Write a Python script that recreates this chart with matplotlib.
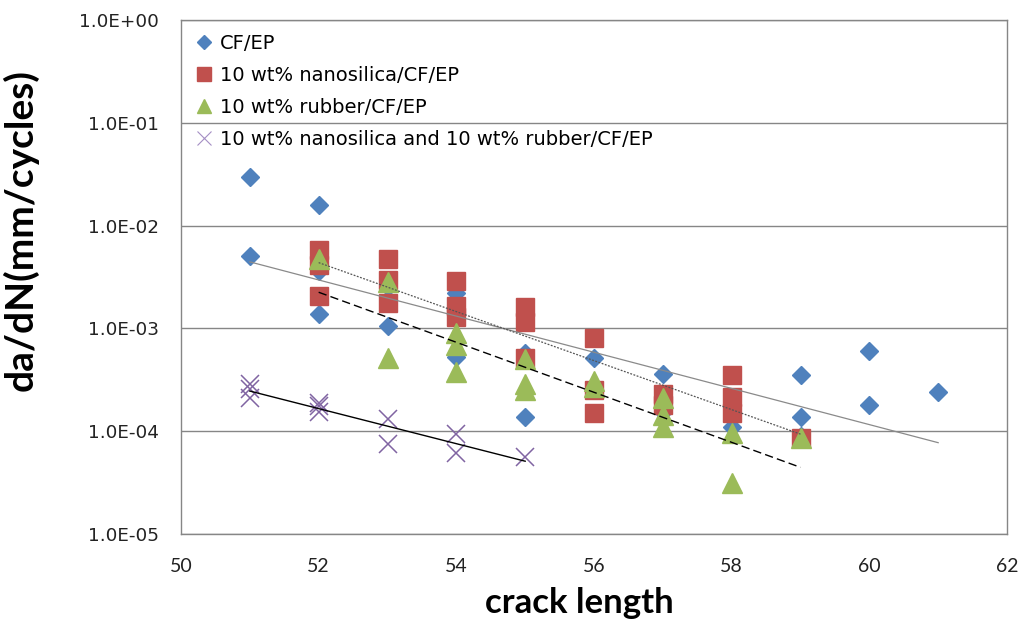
import numpy as np
import matplotlib
matplotlib.use("agg")
import matplotlib.pyplot as plt
from matplotlib.lines import Line2D
from matplotlib.ticker import FuncFormatter, FixedLocator, NullLocator

# crack length (mm) and da/dN (mm/cycles)
cf_x = [51, 51, 52, 52, 52, 53, 53, 54, 54, 55, 55, 55, 56, 56, 57, 57, 58, 59, 59, 59, 60, 60, 61]
cf_y = [2.95e-2, 5.1e-3, 1.59e-2, 3.6e-3, 1.37e-3, 2.55e-3, 1.05e-3, 2.2e-3, 5.3e-4,
        1.15e-3, 5.7e-4, 1.38e-4, 5.1e-4, 1.5e-4, 3.6e-4, 1.55e-4, 1.1e-4, 3.5e-4,
        1.36e-4, 9.0e-5, 6.07e-4, 1.79e-4, 2.39e-4]

ns_x = [52, 52, 52, 53, 53, 53, 54, 54, 54, 55, 55, 55, 56, 56, 56, 57, 57, 58, 58, 58, 59]
ns_y = [5.8e-3, 4.1e-3, 2.07e-3, 4.73e-3, 2.96e-3, 1.75e-3, 2.89e-3, 1.65e-3, 1.3e-3,
        1.63e-3, 1.16e-3, 5.1e-4, 8.1e-4, 2.5e-4, 1.5e-4, 2.3e-4, 1.8e-4, 3.5e-4,
        2.14e-4, 1.51e-4, 8.6e-5]

rb_x = [52, 53, 53, 54, 54, 54, 55, 55, 55, 56, 56, 57, 57, 57, 58, 58, 59]
rb_y = [4.7e-3, 2.85e-3, 5.1e-4, 8.95e-4, 6.9e-4, 3.8e-4, 5.0e-4, 2.9e-4, 2.5e-4,
        3.1e-4, 2.7e-4, 2.1e-4, 1.44e-4, 1.1e-4, 9.5e-5, 3.16e-5, 8.6e-5]

hy_x = [51, 51, 51, 52, 52, 52, 53, 53, 54, 54, 55]
hy_y = [2.9e-4, 2.55e-4, 2.09e-4, 1.87e-4, 1.76e-4, 1.55e-4, 1.3e-4, 7.5e-5, 9.3e-5,
        6.2e-5, 5.6e-5]

labels = ["CF/EP", "10 wt% nanosilica/CF/EP", "10 wt% rubber/CF/EP",
          "10 wt% nanosilica and 10 wt% rubber/CF/EP"]

c_blue = "#4F81BD"
c_red = "#C0504D"
c_green = "#9BBB59"
c_purple = "#8064A2"
grid_c = "#868686"


def exp_trend(x, y):
    # excel style exponential trendline: straight fit of ln(y)
    x = np.asarray(x, float)
    b, a = np.polyfit(x, np.log(y), 1)
    xs = np.array([x.min(), x.max()])
    return xs, np.exp(a + b * xs)


fig = plt.figure(figsize=(10.22, 6.19), dpi=100)
ax = fig.add_axes([181 / 1022, 1 - 534 / 619, 826 / 1022, 514 / 619])

ax.plot(cf_x, cf_y, ls="none", marker="D", ms=9.6, color=c_blue, zorder=3)
ax.plot(ns_x, ns_y, ls="none", marker="s", ms=13.5, color=c_red, zorder=4)
ax.plot(rb_x, rb_y, ls="none", marker="^", ms=14, color=c_green, zorder=5)
ax.plot(hy_x, hy_y, ls="none", marker="x", ms=13.5, mew=1.1, color=c_purple, zorder=6)

tx, ty = exp_trend(cf_x, cf_y)
ax.plot(tx, ty, color="#8a8a8a", lw=0.9, zorder=7)
tx, ty = exp_trend(ns_x, ns_y)
ax.plot(tx, ty, color="#555555", lw=0.9, ls=(0, (1.5, 1.2)), zorder=7)
tx, ty = exp_trend(rb_x, rb_y)
ax.plot(tx, ty, color="black", lw=1.0, ls=(0, (6, 3)), zorder=7)
tx, ty = exp_trend(hy_x, hy_y)
ax.plot(tx, ty, color="black", lw=1.0, zorder=7)

ax.set_yscale("log")
ax.set_xlim(50, 62)
ax.set_ylim(1e-5, 1)
ax.xaxis.set_major_locator(FixedLocator(range(50, 63, 2)))
ax.yaxis.set_major_locator(FixedLocator([1e-5, 1e-4, 1e-3, 1e-2, 1e-1, 1]))
ax.yaxis.set_minor_locator(NullLocator())
ax.yaxis.set_major_formatter(FuncFormatter(lambda v, p: "{:.1E}".format(v)))
ax.grid(axis="y", color=grid_c, lw=1.0)
ax.set_axisbelow(True)
for s in ax.spines.values():
    s.set_color(grid_c)
    s.set_linewidth(1.0)
ax.tick_params(axis="both", length=0)
ax.tick_params(axis="y", pad=16, labelsize=13.2, labelcolor="#222222")
ax.tick_params(axis="x", pad=17, labelsize=14, labelcolor="#222222")
for t in ax.get_xticklabels():
    t.set_family("Lato")

ax.set_xlabel("crack length", family="Lato", weight="bold", fontsize=25)
ax.xaxis.set_label_coords(0.482, -0.104)
ax.set_ylabel("da/dN(mm/cycles)", family="Lato", weight="bold", fontsize=28)
ax.yaxis.set_label_coords(-0.172, 0.591)

handles = [
    Line2D([], [], ls="none", marker="D", ms=7, color=c_blue),
    Line2D([], [], ls="none", marker="s", ms=10, color=c_red),
    Line2D([], [], ls="none", marker="^", ms=10, color=c_green),
    Line2D([], [], ls="none", marker="x", ms=10, mew=0.8, color="#a58fc4"),
]
ax.legend(handles, labels, loc="upper left", bbox_to_anchor=(0.0, 1.0), frameon=False,
          fontsize=14, handlelength=1.0, handletextpad=0.3, labelspacing=0.68,
          borderaxespad=0.3)

fig.savefig("out.png", dpi=100)
